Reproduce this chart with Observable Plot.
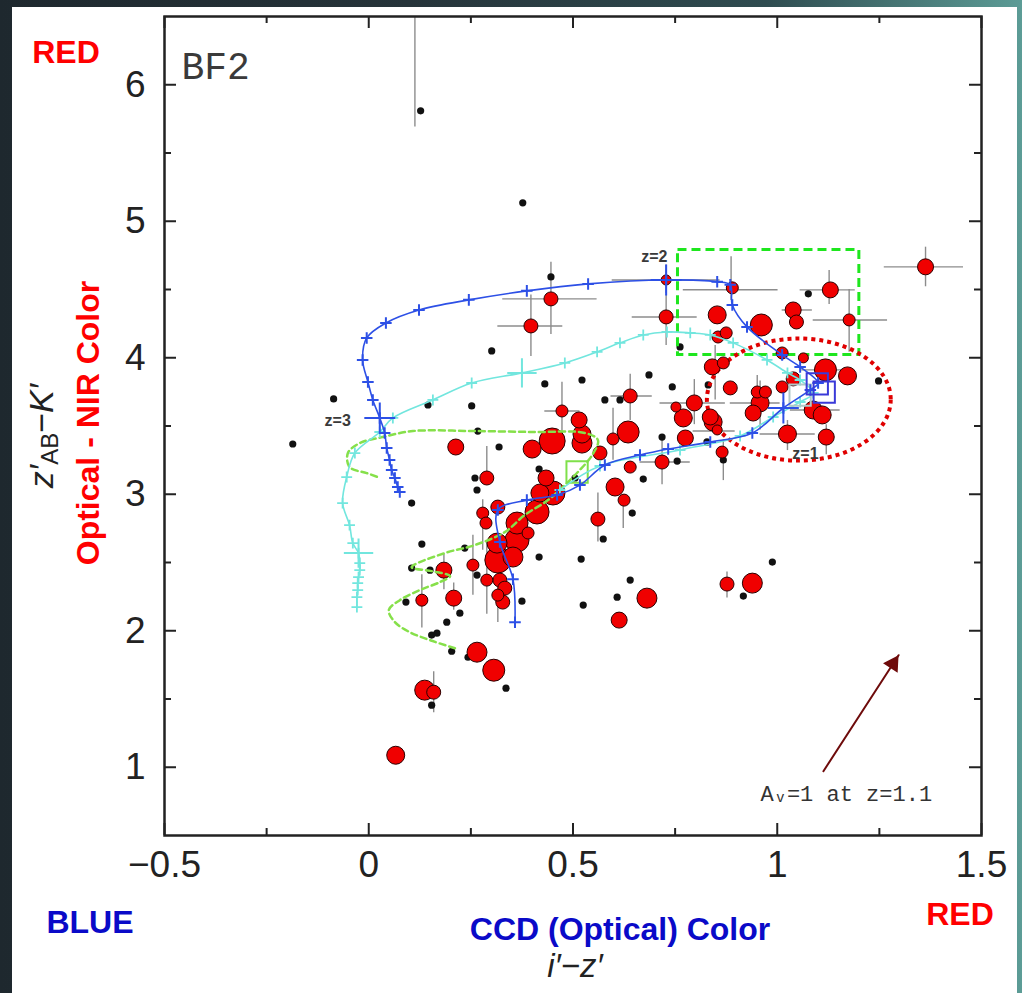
<!DOCTYPE html>
<html><head><meta charset="utf-8">
<script src="https://cdn.jsdelivr.net/npm/d3@7"></script>
<script src="https://cdn.jsdelivr.net/npm/@observablehq/plot@0.6"></script>
<style>
html,body{margin:0;padding:0;}
body{width:1022px;height:993px;position:relative;overflow:hidden;
 background:linear-gradient(90deg,#1e282e 0%,#26343a 40%,#2f4c50 75%,#5c9c96 100%);
 font-family:"Liberation Sans",Arial,sans-serif;}
#panel{position:absolute;left:12px;top:7px;width:1005px;height:986px;background:#fff;}
#chart{position:absolute;left:0;top:0;}
#over{position:absolute;left:0;top:0;pointer-events:none;}
</style></head><body>
<div id="panel"></div>
<div id="chart"></div>
<svg id="over" width="1022" height="993" font-family="Liberation Sans, Arial, sans-serif">
 <text x="66" y="63" text-anchor="middle" fill="#ff0000" font-weight="bold" font-size="32">RED</text>
 <text transform="translate(99,423) rotate(-90)" text-anchor="middle" fill="#ff0000" font-weight="bold" font-size="32">Optical - NIR Color</text>
 <text transform="translate(53,436) rotate(-90)" text-anchor="middle" fill="#222" font-size="34"><tspan font-style="italic">z′</tspan><tspan font-size="24" dy="5">AB</tspan><tspan dy="-5">−</tspan><tspan font-style="italic">K′</tspan></text>
 <text x="90" y="933" text-anchor="middle" fill="#0a0ac8" font-weight="bold" font-size="32">BLUE</text>
 <text x="620" y="940" text-anchor="middle" fill="#0a0ac8" font-weight="bold" font-size="32">CCD (Optical) Color</text>
 <text x="575" y="977" text-anchor="middle" fill="#222" font-size="33" font-style="italic">i′−z′</text>
 <text x="960" y="925" text-anchor="middle" fill="#ff0000" font-weight="bold" font-size="32">RED</text>
</svg>
<script>
// ---- data (i'-z', z'AB-K') ----
const xMajor = [-0.5, 0, 0.5, 1, 1.5];
const xMinor = [-0.25, 0.25, 0.75, 1.25];
const yMajor = [1, 2, 3, 4, 5, 6];
const yMinor = [1.5, 2.5, 3.5, 4.5, 5.5];

// red galaxies: [i'-z', z'-K', symbol size]
const redGalaxies = [
[0.446,4.431,7],[0.397,4.233,7],[0.640,3.720,7],[0.473,3.610,6],[0.515,3.544,8],[0.213,3.346,8],
[0.449,3.390,13],[0.400,3.331,9],[0.522,3.441,9],[0.635,3.456,11],[0.598,3.405,6],[0.522,3.375,10],
[0.566,3.302,7],[0.640,3.199,6],[0.603,3.053,9],[0.625,2.957,6],[0.434,3.119,8],[0.289,3.119,7],
[0.451,3.009,12],[0.419,3.009,9],[0.316,2.906,7],[0.412,2.870,12],[0.279,2.862,6],[0.287,2.789,6],
[0.363,2.789,11],[0.390,2.716,6],[0.314,2.642,10],[0.363,2.664,12],[0.316,2.518,13],[0.353,2.540,10],
[0.255,2.481,6],[0.184,2.444,8],[0.289,2.371,6],[0.321,2.371,7],[0.333,2.312,7],[0.316,2.261,6],
[0.328,2.210,7],[0.561,2.818,7],[0.130,2.224,6],[0.208,2.239,8],[0.265,1.843,10],[0.306,1.711,11],
[0.137,1.565,10],[0.159,1.550,7],[0.613,2.078,8],[0.681,2.239,10],[0.877,2.342,7],[0.939,2.349,10],
[0.066,1.088,9],[0.728,4.570,5],[0.890,4.512,6],[1.130,4.497,8],[1.363,4.666,8],[0.728,4.299,7],
[0.853,4.314,9],[1.039,4.350,8],[1.047,4.262,7],[0.961,4.240,11],[1.176,4.277,6],[0.855,4.152,6],
[0.875,4.182,6],[1.012,4.035,6],[1.064,3.999,5],[0.841,3.933,8],[0.868,3.962,6],[1.118,3.911,11],
[1.172,3.867,9],[1.039,3.845,7],[0.885,3.779,7],[0.951,3.749,6],[0.971,3.749,6],[1.012,3.786,6],
[0.958,3.669,9],[0.941,3.595,8],[1.088,3.617,9],[1.110,3.581,9],[1.025,3.441,9],[1.120,3.419,8],
[0.797,3.669,8],[0.752,3.639,5],[0.770,3.559,9],[0.836,3.566,8],[0.843,3.529,9],[0.853,3.471,5],
[0.775,3.412,8],[0.718,3.236,7],[0.865,3.309,6]
];

// other objects: [i'-z', z'-K']
const otherObjects = [
[0.127,5.809],[0.377,5.135],[0.446,4.592],[0.301,4.050],[0.431,3.808],[0.522,3.837],[-0.086,3.698],
[0.145,3.654],[0.252,3.647],[0.578,3.691],[0.615,3.691],[0.267,3.463],[0.319,3.346],[0.417,3.185],
[0.260,3.119],[0.265,3.031],[0.505,3.119],[0.672,3.111],[0.105,2.935],[0.645,2.862],[-0.186,3.368],
[0.130,2.635],[0.105,2.459],[0.150,2.444],[0.091,2.210],[0.191,2.063],[0.154,1.968],[0.167,1.982],
[0.235,2.606],[0.223,2.129],[0.203,1.850],[0.243,1.806],[0.336,1.579],[0.154,1.455],[0.375,2.217],
[0.417,2.540],[0.520,2.525],[0.525,2.188],[0.574,2.672],[0.640,2.371],[0.608,2.246],[0.265,2.408],
[0.988,2.503],[0.917,2.254],[1.076,4.468],[0.762,4.079],[0.686,3.874],[0.743,3.786],[0.831,3.801],
[1.248,3.830],[0.718,3.419],[0.828,3.383],[0.755,3.243],[0.868,3.251]
];

// error bars: vertical [x, y1, y2], horizontal [y, x1, x2]
const yErrBars = [
[0.113,5.69,6.6],[0.446,4.17,4.70],[0.397,4.01,4.46],[0.640,3.54,3.88],[0.473,3.40,3.82],[0.598,3.25,3.63],
[0.887,4.42,4.74],[1.127,4.39,4.64],[1.363,4.52,4.81],[0.728,4.09,4.46],[1.176,4.04,4.50],[0.848,3.69,4.09],
[0.958,3.47,3.83],[0.797,3.51,3.84],[0.868,3.10,3.40],[0.718,3.07,3.40],[0.130,2.02,2.41],[0.184,2.30,2.56],
[0.208,2.15,2.35],[0.255,2.26,2.70],[0.289,2.12,2.66],[0.316,2.06,2.22],[0.159,1.40,1.70],[0.877,2.24,2.43],
[0.279,2.59,2.96],[0.623,2.75,2.96],[0.561,2.65,3.01],[0.289,3.13,3.35],[0.951,3.62,3.87],[1.025,3.32,3.54],
[1.120,3.29,3.51],[0.728,4.47,4.68]
];
const xErrBars = [
[4.431,0.328,0.559],[4.233,0.316,0.475],[3.720,0.593,0.694],[3.610,0.431,0.517],[4.498,0.770,1.002],
[4.497,1.056,1.191],[4.666,1.262,1.456],[4.299,0.645,0.804],[4.277,1.088,1.270],[4.350,1.012,1.086],
[3.669,0.885,1.007],[3.669,0.713,0.873],[3.463,0.794,0.897],[3.236,0.664,0.787],[4.570,0.596,0.860],
[3.911,1.060,1.170],[3.617,1.032,1.154],[3.441,0.958,1.093]
];

// model tracks
const blueTrack = [
[0.358,2.063],[0.353,2.378],[0.321,2.650],[0.316,2.884],[0.387,2.957],[0.461,2.994],[0.517,3.067],
[0.578,3.214],[0.664,3.287],[0.733,3.331],[0.836,3.383],[0.939,3.449],[1.015,3.632],[1.081,3.764],
[1.100,3.815],[1.056,3.933],[1.012,4.021],[0.926,4.226],[0.890,4.387],[0.885,4.534],[0.853,4.556],
[0.728,4.570],[0.537,4.541],[0.387,4.490],[0.245,4.424],[0.123,4.350],[0.042,4.255],[-0.005,4.145],
[-0.015,3.984],[-0.002,3.823],[0.010,3.691],[0.027,3.559],[0.039,3.449],[0.044,3.339],[0.051,3.251],
[0.056,3.177],[0.064,3.119],[0.071,3.053],[0.076,3.016]
];
const cyanTrack = [
[0.468,3.031],[0.566,3.207],[0.762,3.324],[0.909,3.427],[0.990,3.566],[1.056,3.676],[1.088,3.742],
[1.056,3.837],[1.025,3.889],[0.975,3.984],[0.892,4.109],[0.836,4.167],[0.787,4.182],[0.730,4.189],
[0.672,4.167],[0.615,4.109],[0.559,4.043],[0.480,3.962],[0.375,3.889],[0.252,3.815],[0.157,3.691],
[0.059,3.559],[0.027,3.456],[-0.034,3.302],[-0.054,3.126],[-0.064,2.935],[-0.047,2.774],[-0.039,2.642],
[-0.025,2.569],[-0.022,2.496],[-0.022,2.444],[-0.025,2.393],[-0.027,2.349],[-0.027,2.298],[-0.029,2.246],
[-0.029,2.173]
];
const greenTrack = [
[0.211,1.872],[0.150,1.931],[0.100,1.990],[0.064,2.063],[0.049,2.151],[0.076,2.224],[0.125,2.298],
[0.174,2.356],[0.199,2.400],[0.154,2.437],[0.105,2.466],[0.186,2.569],[0.260,2.628],[0.333,2.723],
[0.382,2.848],[0.439,2.957],[0.480,3.067],[0.512,3.163],[0.547,3.287],[0.561,3.397],[0.529,3.449],
[0.402,3.456],[0.255,3.463],[0.108,3.463],[0.034,3.419],[-0.022,3.375],[-0.051,3.302],[-0.047,3.199],
[-0.005,3.155],[0.022,3.126]
];
const blueRedshiftMarks = [[1.015,3.632],[0.728,4.570],[0.027,3.559]];
const cyanRedshiftMarks = [[-0.025,2.569],[0.375,3.889]];
const zLabels = [["z=2",0.699,4.739],["z=3",-0.076,3.537],["z=1",1.069,3.295]];
const blueSquares = [[1.098,3.808],[1.115,3.748]];
const graySquares = [[1.056,3.727]];
const greenSquares = [[0.510,3.163]];

// annotations
const focusBox = [0.757, 1.201, 4.02, 4.79];       // x1, x2, y1, y2
const ellipseCenter = [1.054, 3.69];
const ellipseRadii = [0.225, 0.447];
const reddening = [[1.113, 0.971, 1.297, 1.821]];  // Av=1 vector
const panelLabel = ["BF2"];
const vectorLabel = [["Aᵥ=1 at z=1.1", 1.169, 0.802]];

// ---- plot ----
const W = 1022, H = 993, mL = 164, mR = 41, mT = 16, mB = 158;
const fw = W - mL - mR, fh = H - mT - mB;
const majorLen = 12, minorLen = 7;
const fmt = d => d < 0 ? "−" + Math.abs(d) : String(d);
const px = d => d[0], py = d => d[1];

function ellipseMark(index, scales) {
  const cx = scales.x(ellipseCenter[0]), cy = scales.y(ellipseCenter[1]);
  const rx = Math.abs(scales.x(ellipseCenter[0] + ellipseRadii[0]) - cx);
  const ry = Math.abs(scales.y(ellipseCenter[1] + ellipseRadii[1]) - cy);
  const e = document.createElementNS("http://www.w3.org/2000/svg", "ellipse");
  e.setAttribute("cx", cx); e.setAttribute("cy", cy);
  e.setAttribute("rx", rx); e.setAttribute("ry", ry);
  e.setAttribute("fill", "none"); e.setAttribute("stroke", "#e00000");
  e.setAttribute("stroke-width", 4); e.setAttribute("stroke-dasharray", "4,4");
  return e;
}

const tickStyle = {stroke: "#222", strokeWidth: 2};
const chart = Plot.plot({
  width: W, height: H, marginLeft: mL, marginRight: mR, marginTop: mT, marginBottom: mB,
  style: {background: "transparent", fontFamily: "Liberation Sans, Arial, sans-serif", overflow: "visible"},
  x: {domain: [-0.5, 1.5], axis: null},
  y: {domain: [0.5, 6.5], axis: null},
  r: {type: "linear", domain: [0, 13], range: [0, 13]},
  marks: [
    // error bars
    Plot.ruleX(yErrBars, {x: d => d[0], y1: d => d[1], y2: d => d[2], stroke: "#8c8c8c", strokeWidth: 1.4, clip: true}),
    Plot.ruleY(xErrBars, {y: d => d[0], x1: d => d[1], x2: d => d[2], stroke: "#8c8c8c", strokeWidth: 1.4, clip: true}),
    // other objects
    Plot.dot(otherObjects, {x: px, y: py, r: 3.6, fill: "#111", stroke: "none"}),
    // box and ellipse
    Plot.rect([focusBox], {x1: d => d[0], x2: d => d[1], y1: d => d[2], y2: d => d[3], fill: "none", stroke: "#1ee61e", strokeWidth: 3, strokeDasharray: "9,5"}),
    ellipseMark,
    // red galaxies
    Plot.dot(redGalaxies, {x: px, y: py, r: d => d[2], fill: "#f00000", stroke: "#2a0000", strokeWidth: 1}),
    // model tracks
    Plot.line(greenTrack, {x: px, y: py, stroke: "#86e04a", strokeWidth: 2.5, strokeDasharray: "6,4", curve: "catmull-rom"}),
    Plot.dot(greenSquares, {x: px, y: py, symbol: "square", r: 12, fill: "none", stroke: "#7fe04a", strokeWidth: 2}),
    Plot.line(cyanTrack, {x: px, y: py, stroke: "#72e6de", strokeWidth: 1.6, curve: "catmull-rom"}),
    Plot.dot(cyanTrack, {x: px, y: py, symbol: "plus", r: 3.6, stroke: "#72e6de", strokeWidth: 1.8}),
    Plot.dot(cyanRedshiftMarks, {x: px, y: py, symbol: "plus", r: 9.5, stroke: "#72e6de", strokeWidth: 2}),
    Plot.dot(graySquares, {x: px, y: py, symbol: "square", r: 12, fill: "none", stroke: "#b0c8c8", strokeWidth: 2}),
    Plot.line(blueTrack, {x: px, y: py, stroke: "#2d50e6", strokeWidth: 1.6, curve: "catmull-rom"}),
    Plot.dot(blueTrack, {x: px, y: py, symbol: "plus", r: 3.8, stroke: "#2d50e6", strokeWidth: 2}),
    Plot.dot(blueRedshiftMarks, {x: px, y: py, symbol: "plus", r: 10, stroke: "#2d50e6", strokeWidth: 2}),
    Plot.dot(blueSquares, {x: px, y: py, symbol: "square", r: 12, fill: "none", stroke: "#3a3ad8", strokeWidth: 2}),
    Plot.text(zLabels, {x: d => d[1], y: d => d[2], text: d => d[0], fontSize: 16, fontWeight: "bold", fill: "#3a3a3a"}),
    // reddening vector
    Plot.arrow(reddening, {x1: d => d[0], y1: d => d[1], x2: d => d[2], y2: d => d[3], stroke: "#6e0b0b", strokeWidth: 2, headLength: 0}),
    Plot.dot(reddening, {x: d => d[2], y: d => d[3], symbol: "triangle", rotate: 33, r: 5.5, dx: -5.5, dy: 8.5, fill: "#6e0b0b", stroke: "#6e0b0b"}),
    Plot.text(vectorLabel, {x: d => d[1], y: d => d[2], text: d => d[0], fontSize: 22, fontFamily: "Liberation Mono, DejaVu Sans Mono, monospace", fill: "#333"}),
    Plot.text(panelLabel, {frameAnchor: "top-left", dx: 17, dy: 36, textAnchor: "start", fontSize: 38, fontFamily: "Liberation Mono, DejaVu Sans Mono, monospace", fill: "#3a3a3a"}),
    // frame and ticks
    Plot.frame({stroke: "#222", strokeWidth: 2.5}),
    Plot.tickX(xMajor, {x: d => d, insetTop: fh - majorLen, ...tickStyle}),
    Plot.tickX(xMinor, {x: d => d, insetTop: fh - minorLen, ...tickStyle}),
    Plot.tickX(xMajor, {x: d => d, insetBottom: fh - majorLen, ...tickStyle}),
    Plot.tickX(xMinor, {x: d => d, insetBottom: fh - minorLen, ...tickStyle}),
    Plot.tickY(yMajor, {y: d => d, insetRight: fw - majorLen, ...tickStyle}),
    Plot.tickY(yMinor, {y: d => d, insetRight: fw - minorLen, ...tickStyle}),
    Plot.tickY(yMajor, {y: d => d, insetLeft: fw - majorLen, ...tickStyle}),
    Plot.tickY(yMinor, {y: d => d, insetLeft: fw - minorLen, ...tickStyle}),
    // tick labels
    Plot.text(xMajor, {x: d => d, frameAnchor: "bottom", dy: 41, text: fmt, fontSize: 37, fill: "#222"}),
    Plot.text(yMajor, {y: d => d, frameAnchor: "left", dx: -19, textAnchor: "end", text: fmt, fontSize: 37, fill: "#222"})
  ]
});
document.getElementById("chart").appendChild(chart);
</script>
</body></html>
